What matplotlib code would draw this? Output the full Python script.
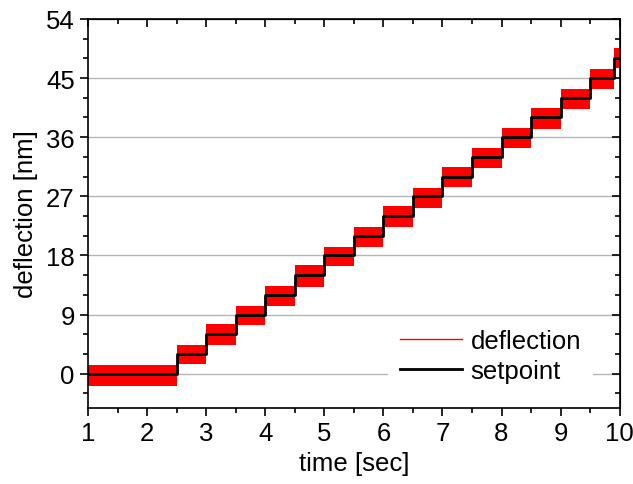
import numpy as np
import matplotlib
matplotlib.use('Agg')
import matplotlib.pyplot as plt
from matplotlib.ticker import MultipleLocator

plt.rcParams['font.family'] = ['Liberation Sans', 'DejaVu Sans']

# step edges in time [sec] and setpoint level of each step [nm]
step_edges = [1, 2.5, 3, 3.5, 4, 4.5, 5, 5.5, 6, 6.5, 7, 7.5, 8, 8.5, 9, 9.5, 9.9, 10]
setpoint = [0, 3, 6, 9, 12, 15, 18, 21, 24, 27, 30, 33, 36, 39, 42, 45, 48]
# envelope of the noisy deflection signal around each setpoint
defl_upper = [1.3, 1.4, 1.5, 1.3, 1.4, 1.5, 1.3, 1.4, 1.5, 1.3, 1.4, 1.3, 1.4, 1.5, 1.3, 1.4, 1.5]
defl_lower = [-1.8, -1.6, -1.7, -1.6, -1.7, -1.8, -1.6, -1.7, -1.6, -1.8, -1.6, -1.7, -1.6, -1.8, -1.7, -1.6, -1.5]

x = np.array(step_edges, dtype=float)
sp = np.array(setpoint + [setpoint[-1]], dtype=float)
up = sp + np.array(defl_upper + [defl_upper[-1]])
lo = sp + np.array(defl_lower + [defl_lower[-1]])

fs = 18.5

fig = plt.figure(figsize=(6.33, 4.85), dpi=100)
ax = fig.add_axes([0.139, 0.157, 0.840, 0.802])

for yv in range(0, 55, 9):
    ax.axhline(yv, color='#b4b4b4', lw=1.0, zorder=0)

ax.fill_between(x, lo, up, step='post', color='red', lw=0, zorder=2)
ax.plot([], [], color='red', lw=1, label='deflection')
ax.step(x, sp, where='post', color='black', lw=2, zorder=3, label='setpoint')

ax.set_xlim(1, 10)
ax.set_ylim(-5.2, 54)
ax.xaxis.set_major_locator(MultipleLocator(1))
ax.xaxis.set_minor_locator(MultipleLocator(0.5))
ax.yaxis.set_major_locator(MultipleLocator(9))
ax.yaxis.set_minor_locator(MultipleLocator(3))
ax.tick_params(which='both', direction='out', labelsize=fs, width=1.2)
ax.tick_params(which='major', length=6)
ax.tick_params(which='minor', length=3.5)
for side in ax.spines.values():
    side.set_linewidth(1.2)

# inward ticks on the top and right frame
secx = ax.secondary_xaxis('top')
secx.xaxis.set_major_locator(MultipleLocator(1))
secx.xaxis.set_minor_locator(MultipleLocator(0.5))
secx.tick_params(which='both', direction='in', labeltop=False, width=1.2)
secx.tick_params(which='major', length=6)
secx.tick_params(which='minor', length=3.5)
secy = ax.secondary_yaxis('right')
secy.yaxis.set_major_locator(MultipleLocator(9))
secy.yaxis.set_minor_locator(MultipleLocator(3))
secy.tick_params(which='both', direction='in', labelright=False, width=1.2)
secy.tick_params(which='major', length=6)
secy.tick_params(which='minor', length=3.5)

ax.set_xlabel('time [sec]', fontsize=fs, labelpad=4)
ax.set_ylabel('deflection [nm]', fontsize=fs, labelpad=6)

leg = ax.legend(loc='center', bbox_to_anchor=(0.757, 0.133), fontsize=fs,
                frameon=True, framealpha=1, edgecolor='none', fancybox=False,
                handlelength=2.4, handletextpad=0.35, borderpad=0.45, labelspacing=0.25)
leg.set_zorder(5)

fig.savefig('out.png', dpi=100)
